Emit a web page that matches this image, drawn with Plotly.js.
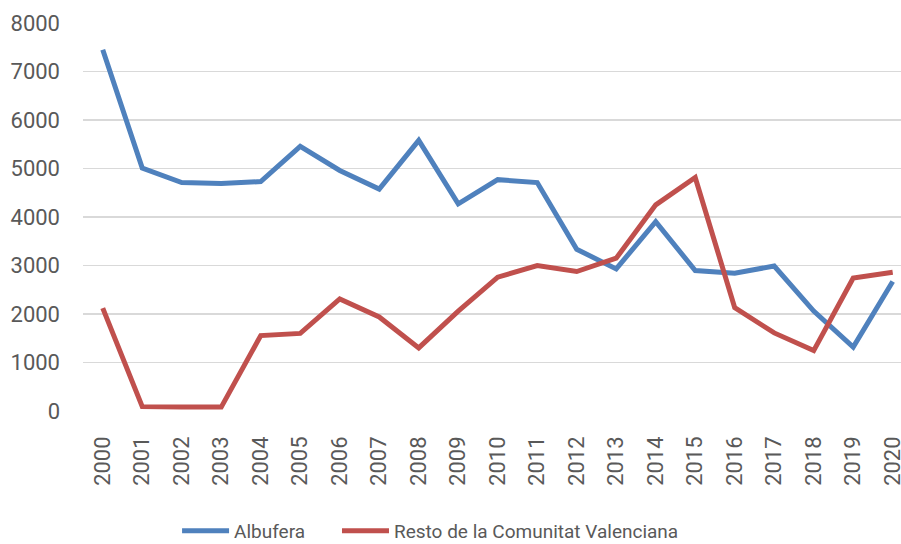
<!DOCTYPE html>
<html>
<head>
<meta charset="utf-8">
<script src="https://cdn.plot.ly/plotly-3.0.1.min.js"></script>
<style>html,body{margin:0;padding:0;background:#fff;}#chart{width:901px;height:544px;}</style>
</head>
<body>
<div id="chart"></div>
<script>
const years = ["2000","2001","2002","2003","2004","2005","2006","2007","2008","2009","2010","2011","2012","2013","2014","2015","2016","2017","2018","2019","2020"];
const albufera = [7450,5010,4710,4690,4730,5455,4960,4575,5580,4270,4770,4710,3335,2930,3905,2895,2840,2990,2060,1320,2670];
const resto = [2120,90,80,80,1555,1600,2310,1940,1300,2060,2760,3000,2875,3150,4250,4815,2130,1610,1245,2740,2860];
const seriesNames = ["Albufera","Resto de la Comunitat Valenciana"];
const yTicks = [0,1000,2000,3000,4000,5000,6000,7000,8000];

const font = {family: "Roboto, 'Liberation Sans Narrow', sans-serif", color: "#595959"};
const data = [
  {x: years, y: albufera, type: "scatter", mode: "lines", name: seriesNames[0], legend: "legend",
   line: {color: "#4F81BD", width: 5}},
  {x: years, y: resto, type: "scatter", mode: "lines", name: seriesNames[1], legend: "legend2",
   line: {color: "#C0504D", width: 5}}
];
const legendBase = {orientation: "h", xanchor: "left", yref: "container", y: 0.024, yanchor: "middle",
  font: Object.assign({size: 19}, font), itemwidth: 47, bgcolor: "rgba(0,0,0,0)"};
const layout = {
  width: 901, height: 544,
  margin: {l: 83, r: 0, t: 23, b: 133, autoexpand: false},
  paper_bgcolor: "#fff", plot_bgcolor: "#fff",
  font: Object.assign({size: 20}, font),
  showlegend: true,
  legend: Object.assign({x: 0.115}, legendBase),
  legend2: Object.assign({x: 0.3105}, legendBase),
  xaxis: {type: "category", range: [-0.5, 20.21], showgrid: false, zeroline: false,
          showline: false, ticks: "", tickangle: -90, tickfont: Object.assign({size: 22}, font),
          ticklabelstandoff: 20, automargin: false},
  yaxis: {range: [0, 8000], tickvals: yTicks, ticktext: yTicks.map(String), showgrid: true,
          gridcolor: "#d9d9d9", gridwidth: 1.5, zeroline: false, showline: false, ticks: "",
          tickfont: Object.assign({size: 22}, font), ticklabelstandoff: 22, automargin: false}
};
Plotly.newPlot("chart", data, layout, {displayModeBar: false, staticPlot: true});
</script>
</body>
</html>
